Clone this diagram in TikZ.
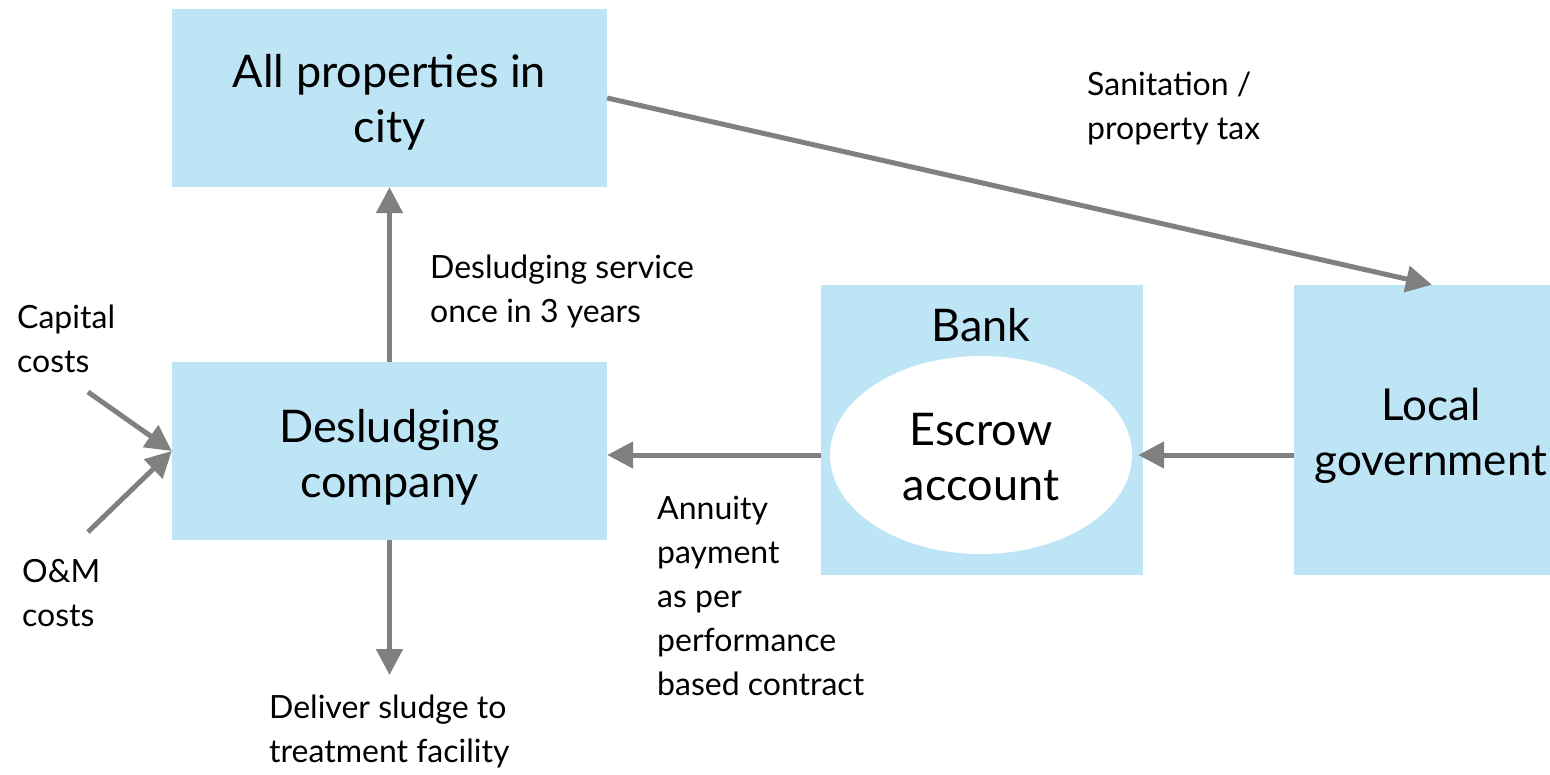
\documentclass[tikz,border=0pt]{standalone}
\usepackage{fontspec}
\setmainfont{Lato}
\usetikzlibrary{arrows.meta,shapes.geometric}
\definecolor{boxblue}{HTML}{BDE5F6}
\definecolor{arrgray}{HTML}{808080}
\begin{document}
\begin{tikzpicture}[x=1pt,y=-1pt,
  box/.style={fill=boxblue,draw=none,rectangle,inner sep=0pt},
  big/.style={font=\fontsize{45}{55}\selectfont,align=center,text=black,anchor=base,inner sep=0pt},
  lab/.style={font=\fontsize{32}{44}\selectfont,align=left,anchor=base west,inner sep=0pt},
  arr/.style={draw=arrgray,line width=5pt,-{Triangle[length=26pt,width=26pt]}}]
\useasboundingbox (0,0) rectangle (1550,774);
\node[box,minimum width=435pt,minimum height=178pt] (ap) at (389.5,98) {};
\node[big] (aptxt) at (389.5,142) {All properties in\\city};
\node[box,minimum width=435pt,minimum height=178pt] (dc) at (389.5,451) {};
\node[big] (dctxt) at (389.5,497) {Desludging\\company};
\node[box,minimum width=322pt,minimum height=290pt] (bank) at (982,430) {};
\node[big] (banktxt) at (981,341) {Bank};
\node[ellipse,fill=white,minimum width=302pt,minimum height=198pt,inner sep=0pt] (esc) at (981,455) {};
\node[big] (esctxt) at (981,500) {Escrow\\account};
\node[box,minimum width=256pt,minimum height=290pt] (lg) at (1422,430) {};
\node[big,font=\fontsize{44}{55}\selectfont] (lgtxt) at (1431,475) {Local\\government};

\node[lab] (l1) at (1087,139) {Sanitation /\\property tax};
\node[lab] (l2) at (430,322) {Desludging service\\once in 3 years};
\node[lab] (l3) at (17,372) {Capital\\costs};
\node[lab] (l4) at (22,626) {O\&M\\costs};
\node[lab] (l5) at (657,695) {Annuity\\payment\\as per\\performance\\based contract};
\node[lab] (l6) at (269,762) {Deliver sludge to\\treatment facility};

\coordinate (capst) at (88,392);
\coordinate (omst) at (88,532);
\coordinate (sludge) at (389.5,675);
\draw[arr] (dc.north) -- (ap.south);
\draw[arr] (dc.south) -- (sludge);
\draw[arr] (capst) -- (dc.west);
\draw[arr] (omst) -- (dc.west);
\draw[arr] (bank.west |- esc.center) -- (dc.east |- esc.center);
\draw[arr] (lg.west |- esc.center) -- ([xshift=6pt]esc.east);
\draw[arr] (ap.east) -- ([xshift=10pt]lg.north);
\end{tikzpicture}
\end{document}
